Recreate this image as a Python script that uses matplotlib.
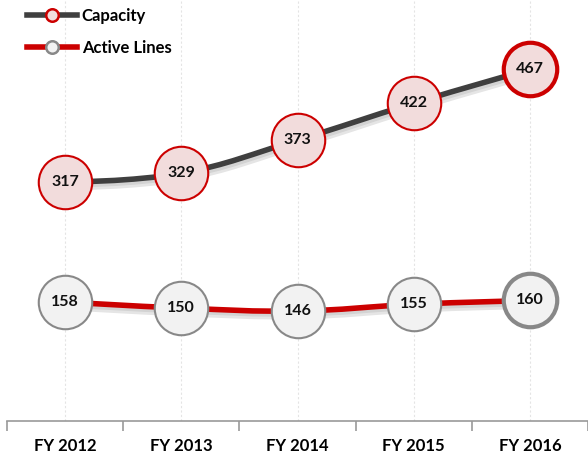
import numpy as np
import matplotlib
matplotlib.use('Agg')
import matplotlib.pyplot as plt
from matplotlib.path import Path
from matplotlib.patches import PathPatch
from matplotlib.lines import Line2D
import matplotlib.patheffects as pe

plt.rcParams['font.family'] = ['Lato', 'DejaVu Sans']

categories = ['FY 2012', 'FY 2013', 'FY 2014', 'FY 2015', 'FY 2016']
capacity = [317, 329, 373, 422, 467]
active_lines = [158, 150, 146, 155, 160]

fig = plt.figure(figsize=(5.88, 4.55), dpi=100)
ax = fig.add_axes([7 / 588, 34 / 455, 581 / 588, 421 / 455])

x = np.arange(len(categories))
ax.set_xlim(-0.5, len(categories) - 0.5)
ax.set_ylim(0, 559)


def spline_path(xs, ys, smooth=1.5):
    # spline like highcharts: control points taken from the neighbours
    verts = [(xs[0], ys[0])]
    codes = [Path.MOVETO]
    n = len(xs)
    for i in range(1, n):
        x0, y0 = xs[i - 1], ys[i - 1]
        x1, y1 = xs[i], ys[i]
        if i - 2 >= 0:
            px, py = xs[i - 2], ys[i - 2]
            lx = (smooth * x0 + x1) / (smooth + 1)
            ly = (smooth * y0 + y1) / (smooth + 1)
            rx = (smooth * x0 + px) / (smooth + 1)
            ry = (smooth * y0 + py) / (smooth + 1)
            c1x = lx
            c1y = ly + (y0 - (ly + (ry - ly) * (x0 - lx) / (rx - lx)))
        else:
            c1x, c1y = x0, y0
        if i + 1 < n:
            nx, ny = xs[i + 1], ys[i + 1]
            lx = (smooth * x1 + x0) / (smooth + 1)
            ly = (smooth * y1 + y0) / (smooth + 1)
            rx = (smooth * x1 + nx) / (smooth + 1)
            ry = (smooth * y1 + ny) / (smooth + 1)
            c2x = lx
            c2y = ly + (y1 - (ly + (ry - ly) * (x1 - lx) / (rx - lx)))
        else:
            c2x, c2y = x1, y1
        verts += [(c1x, c1y), (c2x, c2y), (x1, y1)]
        codes += [Path.CURVE4] * 3
    return Path(verts, codes)


shadow = [pe.SimpleLineShadow(offset=(1, -2.5), shadow_color='#000000', alpha=0.1, linewidth=7),
          pe.SimpleLineShadow(offset=(1, -2), shadow_color='#000000', alpha=0.08, linewidth=4),
          pe.Normal()]

for xi in x:
    ax.axvline(xi, color='#e4e4e4', lw=0.8, ls=(0, (2, 2)), zorder=0)

series = [
    (capacity, '#3f3f3f', '#f2dcdc', '#cc0000', 'Capacity'),
    (active_lines, '#cc0000', '#f2f2f2', '#888888', 'Active Lines'),
]

for vals, lc, fc, ec, name in series:
    p = PathPatch(spline_path(list(x), vals), fill=False, edgecolor=lc, lw=4,
                  capstyle='round', zorder=2)
    p.set_path_effects(shadow)
    ax.add_patch(p)
    ax.plot(x[:-1], vals[:-1], ls='none', marker='o', ms=38.5, mfc=fc, mec=ec,
            mew=1.5, zorder=3)
    ax.plot(x[-1:], vals[-1:], ls='none', marker='o', ms=38.5, mfc=fc, mec=ec,
            mew=3, zorder=3)
    for xi, v in zip(x, vals):
        ax.text(xi, v, str(v), ha='center', va='center', fontsize=11.5,
                fontweight='bold', color='#111111', zorder=4)

for s in ['top', 'right', 'left']:
    ax.spines[s].set_visible(False)
ax.spines['bottom'].set_color('#999999')
ax.spines['bottom'].set_linewidth(1.2)
ax.set_yticks([])
ax.set_xticks(np.arange(-0.5, len(categories), 1.0))
ax.set_xticklabels([])
ax.set_xticks(x, minor=True)
ax.set_xticklabels(categories, minor=True, fontsize=12, fontweight='bold')
ax.tick_params(axis='x', which='major', length=7, color='#999999', width=1.2)
ax.tick_params(axis='x', which='minor', length=0, pad=12)

# legend
h1 = Line2D([], [], color='#3f3f3f', lw=4, marker='o', ms=9, mfc='#f2dcdc',
            mec='#cc0000', mew=1.8)
h2 = Line2D([], [], color='#cc0000', lw=4, marker='o', ms=9, mfc='#f2f2f2',
            mec='#888888', mew=1.8)
fig.legend([h1, h2], ['Capacity', 'Active Lines'], loc='upper left',
           bbox_to_anchor=(0.02, 1.015), frameon=False, handlelength=3.0,
           handletextpad=0.3, labelspacing=0.95,
           prop={'size': 12, 'weight': 'bold'})

fig.savefig('out.png', dpi=100)
